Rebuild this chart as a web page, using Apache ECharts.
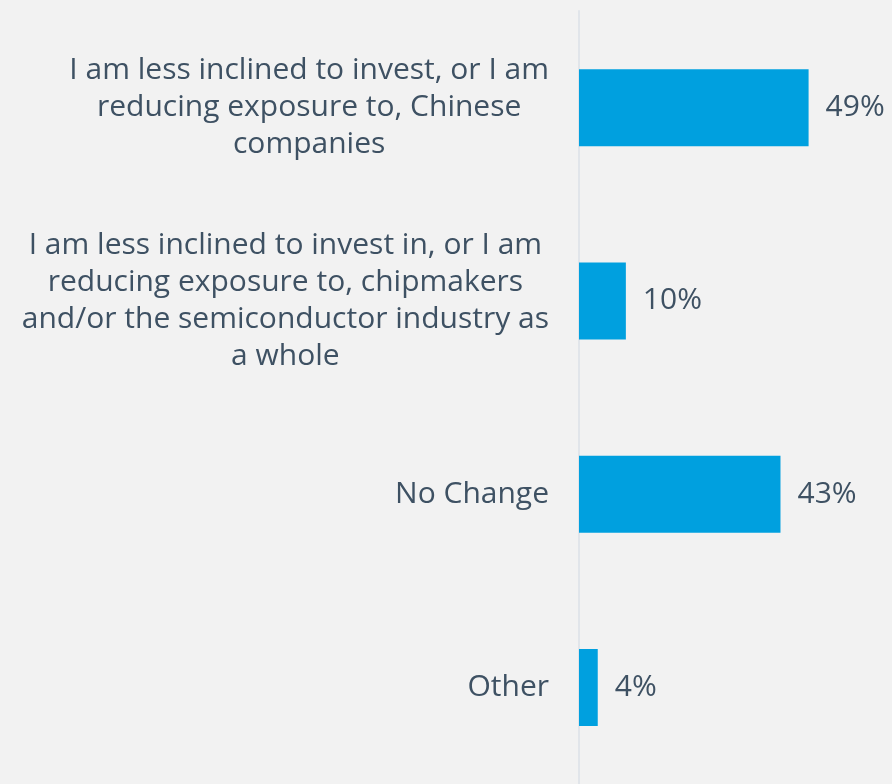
<!DOCTYPE html>
<html>
<head>
<meta charset="utf-8">
<title>Investment response</title>
<script src="https://cdn.jsdelivr.net/npm/echarts@6/dist/echarts.min.js"></script>
<style>
  html, body { margin: 0; padding: 0; background: #f2f2f2; }
  #main { width: 892px; height: 784px; }
</style>
</head>
<body>
<div id="main"></div>
<script>
// categories from top to bottom
var categories = [
  'I am less inclined to invest, or I am\nreducing exposure to, Chinese\ncompanies',
  'I am less inclined to invest in, or I am\nreducing exposure to, chipmakers\nand/or the semiconductor industry as\na whole',
  'No Change',
  'Other'
];
var values = [49, 10, 43, 4];

var textColor = '#3e5163';
var font = 'Open Sans';

var chart = echarts.init(document.getElementById('main'));
var option = {
  backgroundColor: '#f2f2f2',
  animation: false,
  grid: { left: 579, top: 11, right: 0, height: 776 },
  xAxis: {
    type: 'value', min: 0, max: 66.8,
    show: false
  },
  yAxis: {
    type: 'category',
    inverse: true,
    data: categories,
    axisLine: { show: true, lineStyle: { color: '#e1e5ea', width: 2 } },
    axisTick: { show: false },
    axisLabel: {
      margin: 30,
      align: 'right',
      formatter: function (v) {
        // each line centred inside the label block
        return v.split('\n').map(function (s) { return '{c|' + s + '}'; }).join('\n');
      },
      rich: {
        c: {
          align: 'center',
          color: textColor,
          fontFamily: font,
          fontSize: 30,
          lineHeight: 37
        }
      }
    }
  },
  series: [{
    type: 'bar',
    data: values,
    barWidth: 77,
    itemStyle: { color: '#00a0df' },
    label: {
      show: true,
      position: 'right',
      distance: 17,
      formatter: '{c}%',
      color: textColor,
      fontFamily: font,
      fontSize: 30
    }
  }]
};
chart.setOption(option);
</script>
</body>
</html>
